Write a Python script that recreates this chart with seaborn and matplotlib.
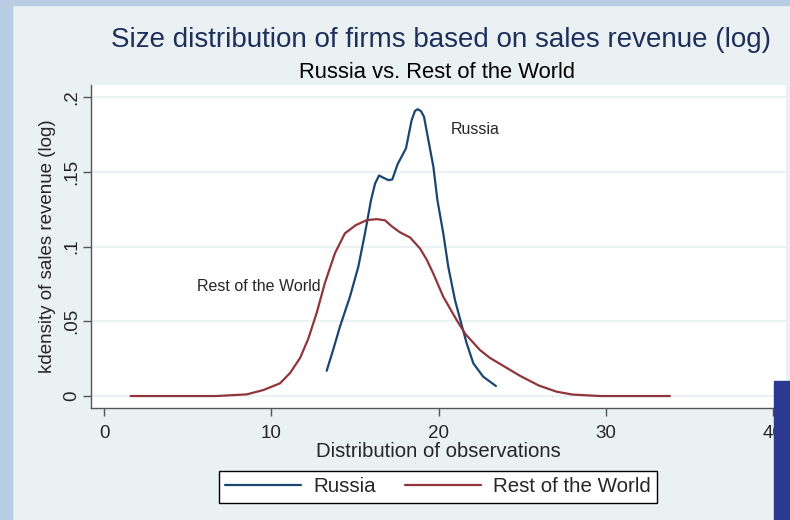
import matplotlib
matplotlib.use('Agg')
import matplotlib.pyplot as plt
import seaborn as sns
import pandas as pd
from matplotlib.patches import Rectangle

# kernel density values
russia_x = [13.31, 13.7, 14.1, 14.7, 15.2, 15.6, 15.96, 16.2, 16.44, 16.7, 17.0, 17.23,
            17.55, 18.05, 18.39, 18.59, 18.75, 18.95, 19.13, 19.39, 19.69, 19.93,
            20.28, 20.58, 20.98, 21.38, 21.68, 22.08, 22.67, 23.43]
russia_y = [0.0169, 0.031, 0.0463, 0.0664, 0.0864, 0.1088, 0.131, 0.142, 0.1475, 0.146,
            0.1444, 0.1448, 0.155, 0.1656, 0.1845, 0.1907, 0.1918, 0.1905, 0.1867, 0.1711,
            0.1533, 0.131, 0.1088, 0.0864, 0.0642, 0.0475, 0.0352, 0.0218,
            0.0129, 0.0067]

row_x = [1.59, 4.0, 6.73, 8.53, 9.52, 10.52, 11.12, 11.72, 12.2, 12.71, 13.2, 13.8,
         14.4, 15.05, 15.7, 16.3, 16.8, 17.2, 17.69, 18.3, 18.9, 19.3, 19.68, 20.28,
         21.08, 21.6, 22.48, 23.07, 23.67, 24.87, 26.0, 27.06, 28.0, 29.65, 33.83]
row_y = [0.0, 0.0, 0.0, 0.0011, 0.004, 0.0085, 0.0154, 0.0255, 0.038, 0.0555, 0.0755,
         0.0954, 0.1088, 0.1143, 0.1176, 0.1183, 0.1175, 0.1135, 0.1095, 0.106, 0.0985,
         0.091, 0.082, 0.0664, 0.0508, 0.0415, 0.0307, 0.0255, 0.0215, 0.0135, 0.007,
         0.0029, 0.001, 0.0, 0.0]

x_ticks = [0, 10, 20, 30, 40]
y_ticks = [0, 0.05, 0.1, 0.15, 0.2]
y_tick_labels = ['0', '.05', '.1', '.15', '.2']

df = pd.concat([
    pd.DataFrame({'x': russia_x, 'y': russia_y, 'group': 'Russia'}),
    pd.DataFrame({'x': row_x, 'y': row_y, 'group': 'Rest of the World'}),
], ignore_index=True)

sns.set_style('white')
plt.rcParams['font.family'] = ['Liberation Sans', 'DejaVu Sans']

bg = '#eaf1f3'
fig = plt.figure(figsize=(7.9, 5.2), dpi=100, facecolor=bg)

# slide frame around the graph
fig.patches.append(Rectangle((0, 0), 12 / 790, 1, transform=fig.transFigure,
                             color='#b8cce4', zorder=0))
fig.patches.append(Rectangle((0, 1 - 5 / 520), 1, 5 / 520, transform=fig.transFigure,
                             color='#b8cce4', zorder=0))
fig.patches.append(Rectangle((774 / 790, 0), 16 / 790, 139 / 520, transform=fig.transFigure,
                             color='#2b3990', zorder=5))

ax = fig.add_axes([91 / 790, 1 - 408 / 520, 695 / 790, 323 / 520])
ax.set_facecolor('white')

sns.lineplot(data=df, x='x', y='y', hue='group', sort=False, estimator=None,
             palette={'Russia': '#1a476f', 'Rest of the World': '#90353b'},
             linewidth=1.6, ax=ax, legend=False)

ax.set_xlim(-0.78, 40.77)
ax.set_ylim(-0.008, 0.208)
ax.set_xticks(x_ticks)
ax.set_yticks(y_ticks)
ax.set_yticklabels(y_tick_labels, rotation=90, va='center')
ax.tick_params(axis='both', labelsize=13.5, length=6, width=1, color='#555555',
               direction='out', left=True, bottom=True)
ax.tick_params(axis='y', pad=2)
ax.tick_params(axis='x', pad=6)
ax.grid(axis='y', color='#eaf2f3', linewidth=1.5)
ax.grid(axis='x', visible=False)
for side in ['top', 'right']:
    ax.spines[side].set_visible(False)
for side in ['left', 'bottom']:
    ax.spines[side].set_color('#555555')
    ax.spines[side].set_linewidth(1)

ax.set_xlabel('Distribution of observations', fontsize=14.6, labelpad=0)
ax.set_ylabel('kdensity of sales revenue (log)', fontsize=13.5, labelpad=5)

ax.text(20.7, 0.178, 'Russia', fontsize=11.5, va='center', ha='left')
ax.text(5.56, 0.0735, 'Rest of the World', fontsize=11.5, va='center', ha='left')

fig.text(441 / 790, 1 - 40 / 520, 'Size distribution of firms based on sales revenue (log)',
         fontsize=20, color='#1f2f5c', ha='center', va='center')
fig.text(437 / 790, 1 - 72 / 520, 'Russia vs. Rest of the World',
         fontsize=15.8, color='black', ha='center', va='center')

handles = [plt.Line2D([], [], color='#1a476f', linewidth=1.6),
           plt.Line2D([], [], color='#90353b', linewidth=1.6)]
leg = fig.legend(handles, ['Russia', 'Rest of the World'], ncol=2, loc='center',
                 bbox_to_anchor=(438 / 790, 1 - 487 / 520), fontsize=14.8,
                 frameon=True, fancybox=False, edgecolor='black', facecolor='white',
                 framealpha=1, handlelength=3.7, handletextpad=0.58,
                 columnspacing=1.45, borderpad=0.3)
leg.get_frame().set_linewidth(1)

fig.savefig('out.png', dpi=100, facecolor=bg)
